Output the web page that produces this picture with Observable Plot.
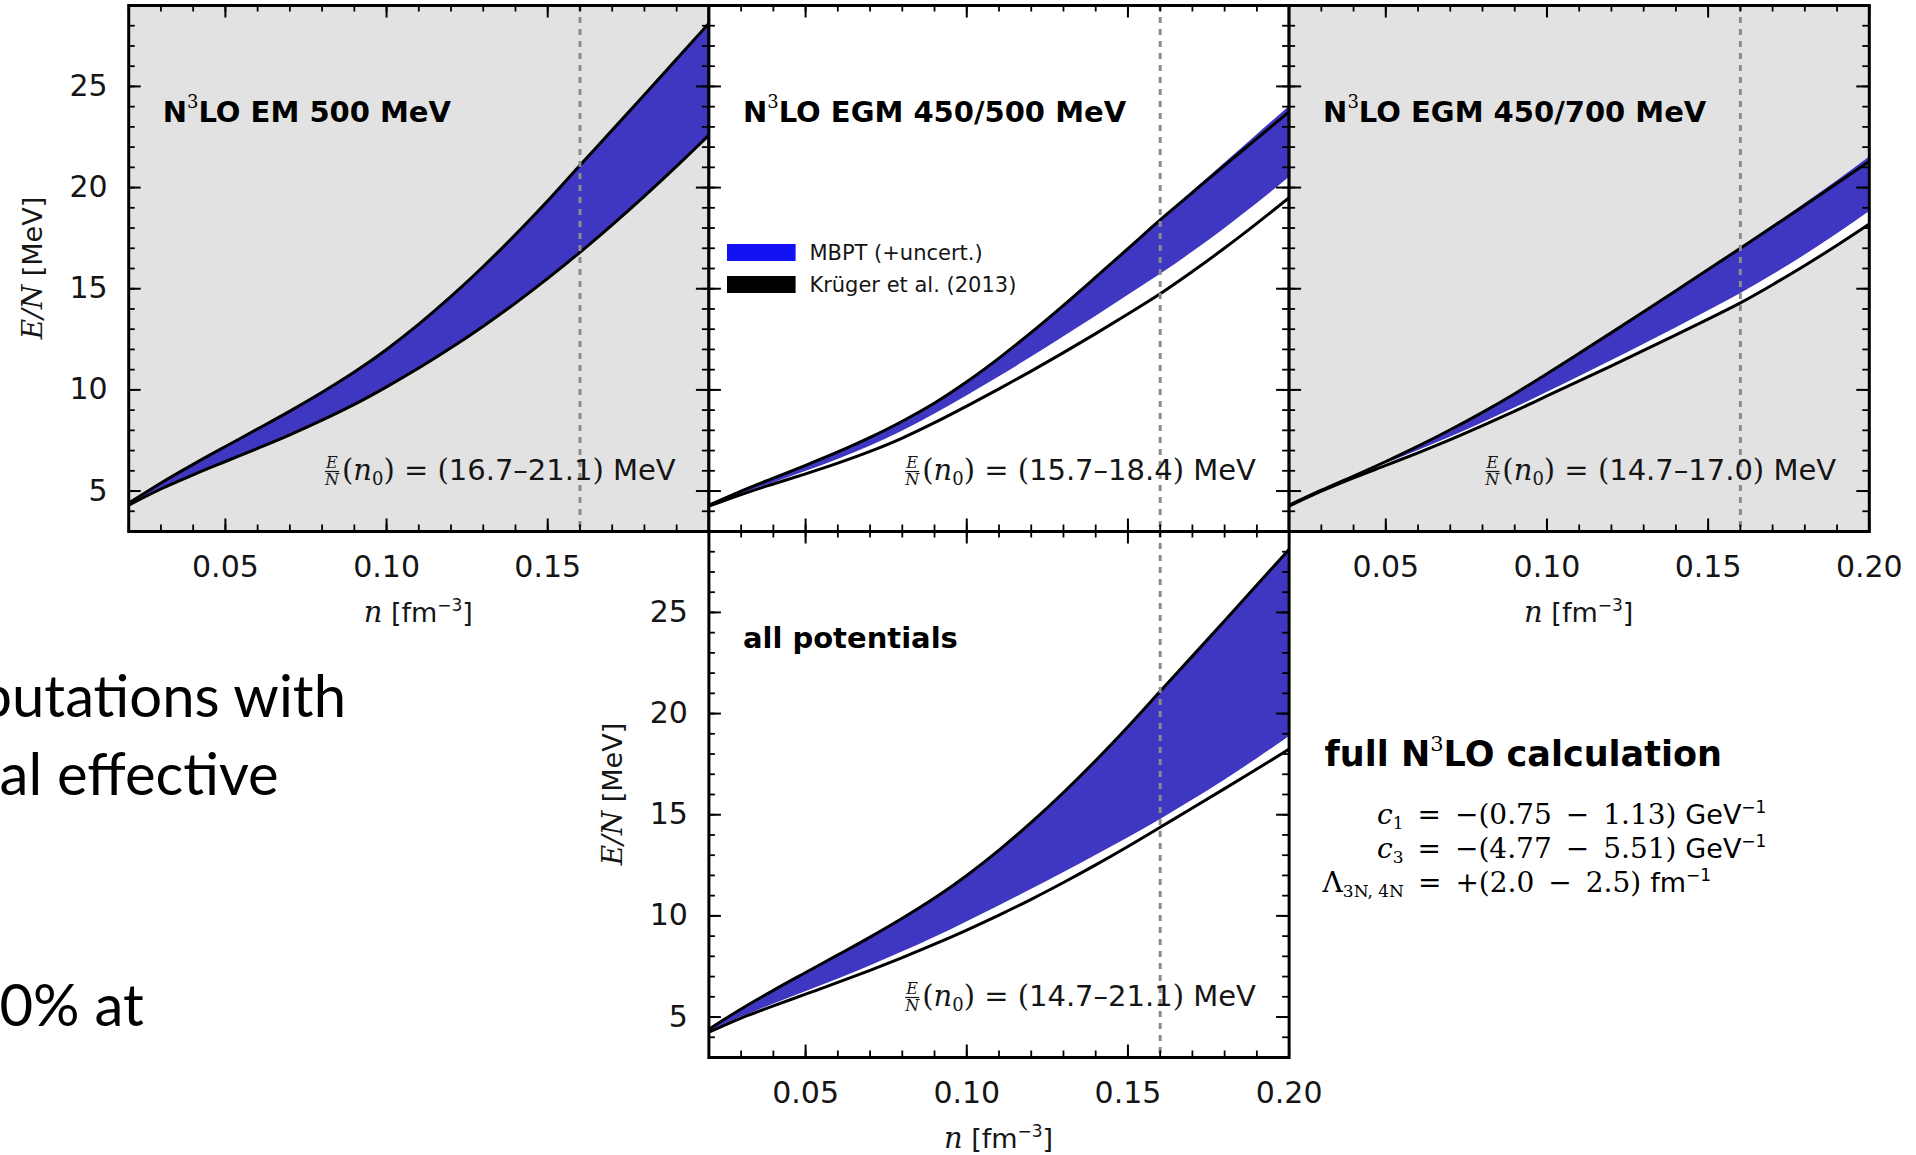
<!DOCTYPE html>
<html>
<head>
<meta charset="utf-8">
<script src="https://cdn.jsdelivr.net/npm/d3@7"></script>
<script src="https://cdn.jsdelivr.net/npm/@observablehq/plot@0.6"></script>
<style>
  html, body { margin: 0; padding: 0; background: #ffffff; overflow: hidden; }
  #page { position: relative; width: 1916px; height: 1155px; overflow: hidden; }
  #page > svg { position: absolute; left: 0; top: 0; }
</style>
</head>
<body>
<div id="page"></div>
<script>
// ---------------- data ----------------
const density = [0.02,0.03,0.04,0.05,0.06,0.07,0.08,0.09,0.10,0.11,0.12,0.13,0.14,0.15,0.16,0.17,0.18,0.19,0.20];

// N3LO EM 500 MeV
const em500MbptHi   = [4.4,5.4,6.32,7.2,8.07,8.95,9.88,10.88,12.0,13.25,14.62,16.1,17.68,19.35,21.1,22.84,24.59,26.35,28.12];
const em500MbptLo   = [4.3,5.1,5.8,6.46,7.11,7.78,8.5,9.28,10.15,11.06,12.04,13.08,14.2,15.4,16.7,18.06,19.47,20.93,22.45];
const em500KrugerHi = [4.4,5.4,6.32,7.2,8.07,8.95,9.88,10.88,12.0,13.25,14.62,16.1,17.68,19.35,21.1,22.84,24.59,26.35,28.12];
const em500KrugerLo = [4.3,5.1,5.8,6.46,7.11,7.78,8.5,9.28,10.15,11.08,12.08,13.15,14.29,15.51,16.8,18.16,19.58,21.06,22.6];

// N3LO EGM 450/500 MeV
const egm500MbptHi   = [4.3,5.0,5.64,6.27,6.93,7.65,8.45,9.35,10.4,11.57,12.84,14.18,15.57,16.98,18.4,19.8,21.2,22.6,24.0];
const egm500MbptLo   = [4.25,4.85,5.4,5.96,6.56,7.22,7.96,8.8,9.7,10.64,11.61,12.61,13.63,14.67,15.7,16.8,17.97,19.2,20.5];
const egm500KrugerHi = [4.3,5.0,5.64,6.27,6.93,7.65,8.45,9.35,10.4,11.57,12.84,14.18,15.57,16.98,18.4,19.75,21.1,22.42,23.75];
const egm500KrugerLo = [4.25,4.83,5.35,5.85,6.38,6.96,7.62,8.38,9.2,10.05,10.93,11.84,12.78,13.75,14.75,15.85,17.01,18.23,19.5];

// N3LO EGM 450/700 MeV
const egm700MbptHi   = [4.3,5.04,5.74,6.46,7.22,8.03,8.89,9.81,10.8,11.81,12.83,13.86,14.9,15.95,17.0,18.1,19.2,20.33,21.5];
const egm700MbptLo   = [4.27,5.03,5.71,6.35,6.99,7.66,8.36,9.1,9.87,10.65,11.44,12.24,13.06,13.9,14.75,15.68,16.66,17.7,18.8];
const egm700KrugerHi = [4.3,5.04,5.74,6.46,7.22,8.03,8.89,9.81,10.8,11.81,12.83,13.86,14.9,15.95,17.0,18.06,19.13,20.21,21.3];
const egm700KrugerLo = [4.25,4.99,5.65,6.27,6.89,7.54,8.23,8.95,9.7,10.44,11.19,11.95,12.72,13.5,14.3,15.2,16.15,17.15,18.2];

// all potentials
const allMbptHi   = [4.4,5.4,6.32,7.2,8.07,8.95,9.88,10.88,12.0,13.25,14.62,16.1,17.68,19.35,21.1,22.84,24.59,26.35,28.12];
const allMbptLo   = [4.27,4.99,5.63,6.25,6.87,7.52,8.21,8.93,9.7,10.49,11.3,12.13,12.98,13.85,14.75,15.71,16.71,17.76,18.85];
const allKrugerHi = [4.4,5.4,6.32,7.2,8.07,8.95,9.88,10.88,12.0,13.25,14.62,16.1,17.68,19.35,21.1,22.84,24.59,26.35,28.12];
const allKrugerLo = [4.25,4.95,5.55,6.13,6.71,7.31,7.94,8.6,9.3,10.04,10.82,11.65,12.52,13.43,14.38,15.33,16.29,17.26,18.24];

const panelNames = ["EM 500 MeV", "EGM 450/500 MeV", "EGM 450/700 MeV", "all potentials"];
const n0Low  = [16.7, 15.7, 14.7, 14.7];
const n0High = [21.1, 18.4, 17.0, 21.1];
const saturationDensity = [0.16];

const xMajorTicks = [0.05, 0.10, 0.15, 0.20];
const xMinorTicks = [0.02,0.03,0.04,0.05,0.06,0.07,0.08,0.09,0.10,0.11,0.12,0.13,0.14,0.15,0.16,0.17,0.18,0.19,0.20];
const xLabelsFirst = [0.05, 0.10, 0.15];
const xLabelsAll = [0.05, 0.10, 0.15, 0.20];
const yMajorTicks = [5, 10, 15, 20, 25];
const yMinorTicks = [3,4,5,6,7,8,9,10,11,12,13,14,15,16,17,18,19,20,21,22,23,24,25,26,27,28,29];

const legendLabels = ["MBPT (+uncert.)", "Krüger et al. (2013)"];

const lecSymbol = ["c", "c", "Λ"];
const lecSub    = ["1", "3", "3N, 4N"];
const lecSign   = ["−", "−", "+"];
const lecLow    = ["0.75", "4.77", "2.0"];
const lecHigh   = ["1.13", "5.51", "2.5"];
const lecUnit   = ["GeV", "GeV", "fm"];

const slideLines = ["putations with", "al effective", "0% at"];

// ---------------- layout / style ----------------
const SANS = "DejaVu Sans", SERIF = "DejaVu Serif";
const PAGE_W = 1916, PAGE_H = 1155, FW = 580.2, FH = 526;
const BAND = "#3f37c1", LEGEND_BLUE = "#1212f4", GRAY_BG = "#e2e2e2";
const TEXT = "#151515";
const SP = "\u2002";

const series = [
  {mHi: em500MbptHi, mLo: em500MbptLo, kHi: em500KrugerHi, kLo: em500KrugerLo},
  {mHi: egm500MbptHi, mLo: egm500MbptLo, kHi: egm500KrugerHi, kLo: egm500KrugerLo},
  {mHi: egm700MbptHi, mLo: egm700MbptLo, kHi: egm700KrugerHi, kLo: egm700KrugerLo},
  {mHi: allMbptHi, mLo: allMbptLo, kHi: allKrugerHi, kLo: allKrugerLo}
];
const layout = [
  {left: 128.2, top: 5,   bg: GRAY_BG,   xLabels: xLabelsFirst, yLabels: true,  sup: true},
  {left: 708.4, top: 5,   bg: "#ffffff", xLabels: null,         yLabels: false, sup: true, legend: true},
  {left: 1288.6, top: 5,  bg: GRAY_BG,   xLabels: xLabelsAll,   yLabels: false, sup: true},
  {left: 708.4, top: 531, bg: "#ffffff", xLabels: xLabelsAll,   yLabels: true,  sup: false}
];

const page = document.getElementById("page");
const curve = "monotone-x";

function buildPanel(p, i) {
  const s = series[i];
  const rows = density.map((n, j) => ({n, mHi: s.mHi[j], mLo: s.mLo[j], kHi: s.kHi[j], kLo: s.kLo[j]}));
  const marks = [
    Plot.frame({fill: p.bg}),
    Plot.areaY(rows, {x: "n", y1: "kLo", y2: "kHi", fill: "#ffffff", curve, clip: true}),
    Plot.areaY(rows, {x: "n", y1: "mLo", y2: "mHi", fill: BAND, curve, clip: true}),
    Plot.line(rows, {x: "n", y: "kHi", stroke: "#000", strokeWidth: 3, curve, clip: true}),
    Plot.line(rows, {x: "n", y: "kLo", stroke: "#000", strokeWidth: 3, curve, clip: true}),
    Plot.ruleX(saturationDensity, {x: d => d, stroke: "#8c8c8c", strokeWidth: 3, strokeDasharray: "6,6"}),
    Plot.tickX(xMinorTicks, {x: d => d, insetTop: FH - 6.5, stroke: "#000", strokeWidth: 1.8}),
    Plot.tickX(xMinorTicks, {x: d => d, insetBottom: FH - 6.5, stroke: "#000", strokeWidth: 1.8}),
    Plot.tickX(xMajorTicks, {x: d => d, insetTop: FH - 12.5, stroke: "#000", strokeWidth: 2}),
    Plot.tickX(xMajorTicks, {x: d => d, insetBottom: FH - 12.5, stroke: "#000", strokeWidth: 2}),
    Plot.tickY(yMinorTicks, {y: d => d, insetRight: FW - 6.5, stroke: "#000", strokeWidth: 1.8}),
    Plot.tickY(yMinorTicks, {y: d => d, insetLeft: FW - 6.5, stroke: "#000", strokeWidth: 1.8}),
    Plot.tickY(yMajorTicks, {y: d => d, insetRight: FW - 12.5, stroke: "#000", strokeWidth: 2}),
    Plot.tickY(yMajorTicks, {y: d => d, insetLeft: FW - 12.5, stroke: "#000", strokeWidth: 2})
  ];
  if (p.xLabels) marks.push(Plot.axisX({anchor: "bottom", ticks: p.xLabels, tickSize: 0, tickPadding: 24,
    tickFormat: d3.format(".2f"), label: null, fontSize: 30, fill: TEXT}));
  if (p.yLabels) marks.push(Plot.axisY({anchor: "left", ticks: yMajorTicks, tickSize: 0, tickPadding: 21,
    label: null, fontSize: 30, fill: TEXT}));
  marks.push(Plot.frame({stroke: "#000", strokeWidth: 3}));

  const svg = Plot.plot({
    width: PAGE_W, height: PAGE_H,
    marginLeft: p.left, marginTop: p.top,
    marginRight: PAGE_W - p.left - FW, marginBottom: PAGE_H - p.top - FH,
    x: {domain: [0.02, 0.20], axis: null},
    y: {domain: [3, 29], axis: null},
    style: {background: "transparent", overflow: "visible", fontFamily: SANS, fontSize: "30px", color: TEXT},
    marks
  });
  page.appendChild(svg);
  const g = d3.select(svg).append("g").attr("fill", TEXT).attr("text-anchor", "start");

  // panel title
  const t = g.append("text").attr("x", p.left + 34.5).attr("y", p.top + 117)
    .attr("font-family", SANS).attr("font-weight", "bold").attr("font-size", 29).attr("fill", "#000");
  if (p.sup) {
    t.append("tspan").text("N");
    t.append("tspan").attr("font-family", SERIF).attr("font-weight", "normal").attr("font-size", 18).attr("dy", -14).text("3");
    t.append("tspan").attr("dy", 14).text("LO " + panelNames[i]);
  } else {
    t.text(panelNames[i]);
  }

  // E/N(n0) annotation
  const bx = p.left + 547.5, by = p.top + 474.5;
  const a = g.append("text").attr("x", bx).attr("y", by).attr("text-anchor", "end").attr("font-size", 29);
  a.append("tspan").attr("font-family", SERIF).text("(");
  a.append("tspan").attr("font-family", SERIF).attr("font-style", "italic").text("n");
  a.append("tspan").attr("font-family", SERIF).attr("font-size", 18).attr("dy", 5).text("0");
  a.append("tspan").attr("font-family", SERIF).attr("dy", -5).text(") = (");
  a.append("tspan").attr("font-family", SANS).text(`${n0Low[i].toFixed(1)}–${n0High[i].toFixed(1)}`);
  a.append("tspan").attr("font-family", SERIF).text(")");
  a.append("tspan").attr("font-family", SANS).text(" MeV");
  const w = a.node().getComputedTextLength();
  const fx = bx - w - 10;
  g.append("text").attr("x", fx).attr("y", by - 12).attr("text-anchor", "middle").attr("font-family", SERIF)
    .attr("font-style", "italic").attr("font-size", 16).text("E");
  g.append("line").attr("x1", fx - 7).attr("x2", fx + 7).attr("y1", by - 8).attr("y2", by - 8)
    .attr("stroke", TEXT).attr("stroke-width", 1.2);
  g.append("text").attr("x", fx).attr("y", by + 5.5).attr("text-anchor", "middle").attr("font-family", SERIF)
    .attr("font-style", "italic").attr("font-size", 16).text("N");

  // axis titles
  if (p.xLabels) {
    const xl = g.append("text").attr("x", p.left + FW / 2).attr("y", p.top + FH + 91).attr("text-anchor", "middle");
    xl.append("tspan").attr("font-family", SERIF).attr("font-style", "italic").attr("font-size", 29).text("n");
    xl.append("tspan").attr("font-family", SANS).attr("font-size", 27).text(" [fm");
    xl.append("tspan").attr("font-family", SANS).attr("font-size", 17).attr("dy", -11).text("−3");
    xl.append("tspan").attr("font-family", SANS).attr("font-size", 27).attr("dy", 11).text("]");
  }
  if (p.yLabels) {
    const cx = p.left - 86, cy = p.top + FH / 2;
    const yl = g.append("text").attr("transform", `translate(${cx},${cy}) rotate(-90)`).attr("text-anchor", "middle");
    yl.append("tspan").attr("font-family", SERIF).attr("font-style", "italic").attr("font-size", 28).text("E/N");
    yl.append("tspan").attr("font-family", SANS).attr("font-size", 27).text(" [MeV]");
  }

  // legend
  if (p.legend) {
    const colors = [LEGEND_BLUE, "#000"];
    legendLabels.forEach((lab, k) => {
      g.append("rect").attr("x", p.left + 18.6).attr("y", p.top + 239 + k * 32).attr("width", 68.6).attr("height", 17)
        .attr("fill", colors[k]);
      g.append("text").attr("x", p.left + 101).attr("y", p.top + 254.5 + k * 32).attr("font-family", SANS)
        .attr("font-size", 21).text(lab);
    });
  }
  return g;
}

const groups = layout.map(buildPanel);

// right-hand side text block
const g0 = groups[0];
const ft = g0.append("text").attr("x", 1324.6).attr("y", 766).attr("font-family", SANS).attr("font-weight", "bold")
  .attr("font-size", 35).attr("fill", "#000");
ft.append("tspan").text("full N");
ft.append("tspan").attr("font-family", SERIF).attr("font-weight", "normal").attr("font-size", 21).attr("dy", -15).text("3");
ft.append("tspan").attr("dy", 15).text("LO calculation");

const lecX = [1377, 1377, 1322.6], lecY = [824, 858, 892];
lecSymbol.forEach((sym, k) => {
  const tt = g0.append("text").attr("x", lecX[k]).attr("y", lecY[k]).attr("font-family", SERIF).attr("font-size", 28).attr("fill", "#000");
  tt.append("tspan").attr("font-style", k < 2 ? "italic" : "normal").text(sym);
  tt.append("tspan").attr("font-size", 17).attr("dy", 5).text(lecSub[k]);
  tt.append("tspan").attr("dy", -5).text(`${SP}=${SP}${lecSign[k]}(${lecLow[k]}${SP}−${SP}${lecHigh[k]}) `);
  tt.append("tspan").attr("font-family", SANS).attr("font-size", 27).text(lecUnit[k]);
  tt.append("tspan").attr("font-family", SANS).attr("font-size", 17).attr("dy", -11).text("−1");
});

// clipped slide text on the left
const slideX = [346, 278.7, 143.7], slideY = [717.3, 795, 1026];
slideLines.forEach((s, k) => {
  g0.append("text").attr("x", slideX[k]).attr("y", slideY[k]).attr("text-anchor", "end")
    .attr("font-family", "Lato").attr("font-size", 58).attr("fill", "#000").text(s);
});
</script>
</body>
</html>
